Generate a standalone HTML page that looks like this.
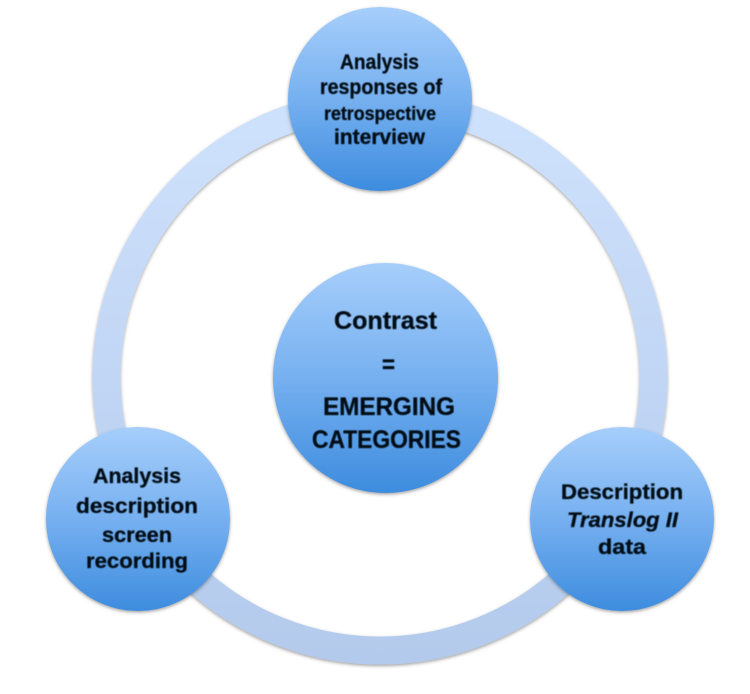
<!DOCTYPE html>
<html><head><meta charset="utf-8"><style>
html,body{margin:0;padding:0;background:#fff;width:750px;height:694px;overflow:hidden}
svg{display:block}
text{font-family:"Liberation Sans",sans-serif;font-weight:700;fill:#060a14;stroke:#060a14;stroke-width:.3;filter:url(#soft)}
</style></head><body>
<svg width="750" height="694" viewBox="0 0 750 694" xmlns="http://www.w3.org/2000/svg">
<defs>
<linearGradient id="g" x1="0" y1="0" x2="0" y2="1"><stop offset="0" stop-color="#a6cefb"/><stop offset=".5" stop-color="#76b0f0"/><stop offset="1" stop-color="#3d8cde"/></linearGradient>
<linearGradient id="r" gradientUnits="userSpaceOnUse" x1="0" y1="90" x2="0" y2="665"><stop offset="0" stop-color="#cfe2fd"/><stop offset="1" stop-color="#b3caec"/></linearGradient>
<filter id="sh" x="-10%" y="-10%" width="120%" height="120%"><feDropShadow dx="0" dy="1.5" stdDeviation="1.5" flood-color="#444" flood-opacity=".5"/></filter>
<filter id="soft" x="-5%" y="-20%" width="110%" height="140%"><feGaussianBlur stdDeviation=".4"/></filter>
</defs>
<circle cx="380" cy="377" r="273.5" fill="none" stroke="url(#r)" stroke-width="28" filter="url(#sh)"/>
<circle cx="380" cy="99" r="92" fill="url(#g)" filter="url(#sh)"/>
<ellipse cx="385.5" cy="378" rx="112.5" ry="115" fill="url(#g)" filter="url(#sh)"/>
<circle cx="138" cy="519" r="92" fill="url(#g)" filter="url(#sh)"/>
<circle cx="622" cy="519" r="92" fill="url(#g)" filter="url(#sh)"/>
<g font-size="21">
<text x="340" y="69" textLength="79" lengthAdjust="spacingAndGlyphs">Analysis</text>
<text x="320" y="94" textLength="122" lengthAdjust="spacingAndGlyphs">responses of</text>
<text x="324" y="120" font-size="19" textLength="112" lengthAdjust="spacingAndGlyphs">retrospective</text>
<text x="334" y="144" textLength="91" lengthAdjust="spacingAndGlyphs">interview</text>
<text x="93" y="483" textLength="88" lengthAdjust="spacingAndGlyphs">Analysis</text>
<text x="76" y="513" textLength="122" lengthAdjust="spacingAndGlyphs">description</text>
<text x="102" y="542" textLength="70" lengthAdjust="spacingAndGlyphs">screen</text>
<text x="86" y="568" textLength="102" lengthAdjust="spacingAndGlyphs">recording</text>
<text x="561" y="499" textLength="122" lengthAdjust="spacingAndGlyphs">Description</text>
<text x="567" y="527" font-style="italic" textLength="111" lengthAdjust="spacingAndGlyphs">Translog II</text>
<text x="598" y="554" textLength="48" lengthAdjust="spacingAndGlyphs">data</text>
</g>
<g font-size="25">
<text x="334" y="329" textLength="103" lengthAdjust="spacingAndGlyphs">Contrast</text>
<text x="382" y="373" textLength="13" lengthAdjust="spacingAndGlyphs">=</text>
<text x="323" y="415" textLength="132" lengthAdjust="spacingAndGlyphs">EMERGING</text>
<text x="312" y="448" textLength="149" lengthAdjust="spacingAndGlyphs">CATEGORIES</text>
</g>
</svg>
</body></html>
